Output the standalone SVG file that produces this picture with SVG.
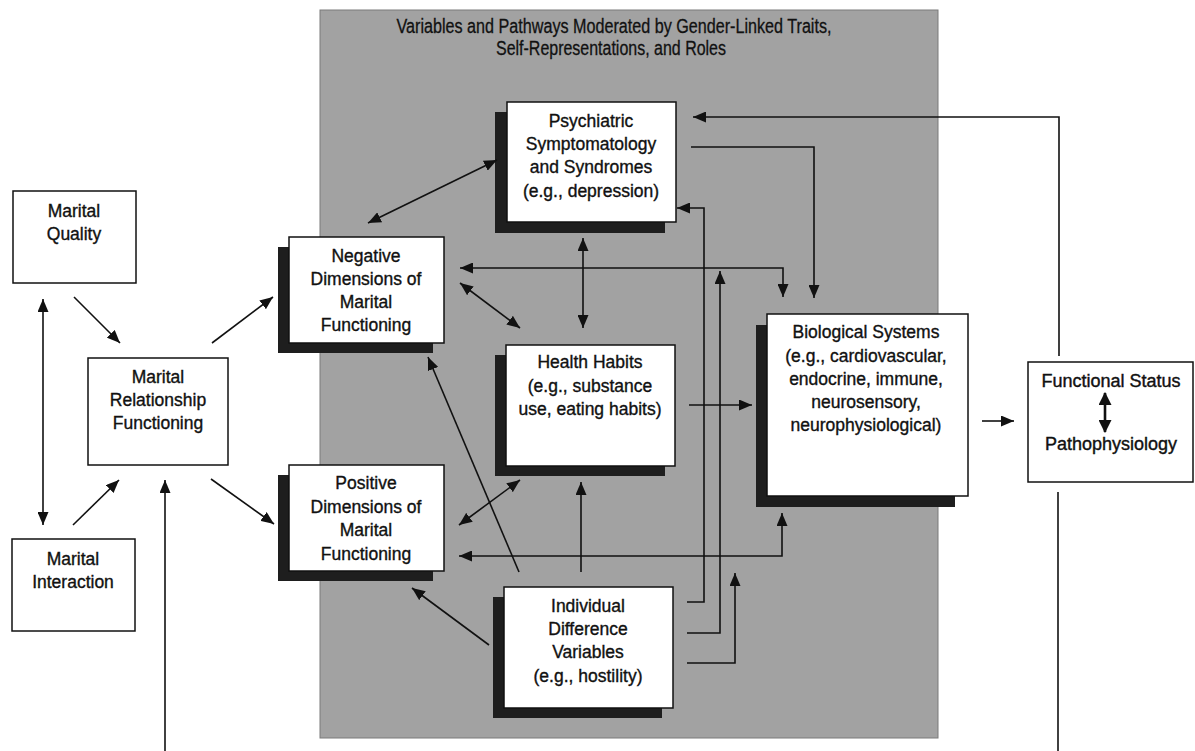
<svg xmlns="http://www.w3.org/2000/svg" width="1195" height="751" viewBox="0 0 1195 751">
  <style>
    .box { fill: #ffffff; stroke: #111; stroke-width: 1.5; }
    .shadow { fill: #1e1e1e; }
    .t { font-family: "Liberation Sans", Arial, sans-serif; font-size: 17.5px; fill: #111; stroke: #111; stroke-width: 0.35; text-anchor: middle; }
    .title { font-family: "Liberation Sans Narrow", "Liberation Sans", Arial, sans-serif; font-size: 20px; fill: #111; stroke: #111; stroke-width: 0.3; text-anchor: middle; }
    .fs { font-family: "Liberation Sans", Arial, sans-serif; font-size: 18px; fill: #111; stroke: #111; stroke-width: 0.4; text-anchor: middle; }
    .c { fill: none; stroke: #111; stroke-width: 1.6; }
  </style>
  <defs>
    <marker id="ah" viewBox="0 0 13 11" refX="13" refY="5.5" markerWidth="13" markerHeight="11" markerUnits="userSpaceOnUse" orient="auto-start-reverse">
      <path d="M0,0 L13,5.5 L0,11 z" fill="#111"/>
    </marker>
    <marker id="ahb" viewBox="0 0 12 12" refX="11" refY="6" markerWidth="13" markerHeight="13" markerUnits="userSpaceOnUse" orient="auto-start-reverse">
      <path d="M0,0 L12,6 L0,12 z" fill="#111"/>
    </marker>
  </defs>

  <rect width="1195" height="751" fill="#ffffff"/>

  <!-- shaded panel of moderated pathways -->
  <g id="panel">
    <rect x="320" y="10" width="618" height="728" fill="#a2a2a2" stroke="#7a7a7a" stroke-width="1"/>
    <text class="title" x="614" y="33" textLength="435" lengthAdjust="spacingAndGlyphs">Variables and Pathways Moderated by Gender-Linked Traits,</text>
    <text class="title" x="611" y="55" textLength="230" lengthAdjust="spacingAndGlyphs">Self-Representations, and Roles</text>
  </g>

  <!-- left-hand marital boxes -->
  <g id="marital-quality">
    <rect class="box" x="13" y="191" width="123" height="92"/>
    <text class="t" x="74" y="217">Marital</text>
    <text class="t" x="74" y="240">Quality</text>
  </g>
  <g id="marital-interaction">
    <rect class="box" x="12" y="539" width="123" height="92"/>
    <text class="t" x="73" y="565">Marital</text>
    <text class="t" x="73" y="588">Interaction</text>
  </g>
  <g id="marital-relationship-functioning">
    <rect class="box" x="88" y="358" width="140" height="107"/>
    <text class="t" x="158" y="383">Marital</text>
    <text class="t" x="158" y="406">Relationship</text>
    <text class="t" x="158" y="429">Functioning</text>
  </g>

  <!-- shadowed boxes inside the panel -->
  <g id="negative-dimensions">
    <rect class="shadow" x="278" y="247" width="155" height="106"/>
    <rect class="box" x="289" y="237" width="155" height="106"/>
    <text class="t" x="366" y="262">Negative</text>
    <text class="t" x="366" y="285">Dimensions of</text>
    <text class="t" x="366" y="308">Marital</text>
    <text class="t" x="366" y="331">Functioning</text>
  </g>
  <g id="positive-dimensions">
    <rect class="shadow" x="278" y="475" width="155" height="106"/>
    <rect class="box" x="289" y="465" width="155" height="106"/>
    <text class="t" x="366" y="489">Positive</text>
    <text class="t" x="366" y="513">Dimensions of</text>
    <text class="t" x="366" y="536">Marital</text>
    <text class="t" x="366" y="560">Functioning</text>
  </g>
  <g id="psychiatric">
    <rect class="shadow" x="495" y="112" width="170" height="121"/>
    <rect class="box" x="507" y="102" width="169" height="120"/>
    <text class="t" x="591" y="127">Psychiatric</text>
    <text class="t" x="591" y="150">Symptomatology</text>
    <text class="t" x="591" y="173">and Syndromes</text>
    <text class="t" x="591" y="197">(e.g., depression)</text>
  </g>
  <g id="health-habits">
    <rect class="shadow" x="495" y="355" width="170" height="121"/>
    <rect class="box" x="506" y="345" width="169" height="121"/>
    <text class="t" x="590" y="368">Health Habits</text>
    <text class="t" x="590" y="392">(e.g., substance</text>
    <text class="t" x="590" y="415">use, eating habits)</text>
  </g>
  <g id="individual-difference">
    <rect class="shadow" x="493" y="597" width="169" height="121"/>
    <rect class="box" x="504" y="587" width="169" height="121"/>
    <text class="t" x="588" y="612">Individual</text>
    <text class="t" x="588" y="635">Difference</text>
    <text class="t" x="588" y="658">Variables</text>
    <text class="t" x="588" y="682">(e.g., hostility)</text>
  </g>
  <g id="biological-systems">
    <rect class="shadow" x="756" y="325" width="199" height="182"/>
    <rect class="box" x="767" y="314" width="201" height="182"/>
    <text class="t" x="866" y="338">Biological Systems</text>
    <text class="t" x="866" y="362">(e.g., cardiovascular,</text>
    <text class="t" x="866" y="385">endocrine, immune,</text>
    <text class="t" x="866" y="408">neurosensory,</text>
    <text class="t" x="866" y="431">neurophysiological)</text>
  </g>

  <!-- outcome box -->
  <g id="functional-status">
    <rect class="box" x="1028" y="362" width="165" height="120"/>
    <text class="fs" x="1111" y="387">Functional Status</text>
    <text class="fs" x="1111" y="450">Pathophysiology</text>
    <path d="M1105,393 L1105,432" fill="none" stroke="#111" stroke-width="2.6" marker-start="url(#ahb)" marker-end="url(#ahb)"/>
  </g>

  <!-- connectors -->
  <g id="connectors" class="c">
    <path class="c" d="M43,299 L43,525" marker-start="url(#ah)" marker-end="url(#ah)"/>
    <path class="c" d="M74,297 L120,343" marker-end="url(#ah)"/>
    <path class="c" d="M73,525 L119,480" marker-end="url(#ah)"/>
    <path class="c" d="M165,751 L165,480" marker-end="url(#ah)"/>
    <path class="c" d="M212,343 L273,297" marker-end="url(#ah)"/>
    <path class="c" d="M211,479 L274,524" marker-end="url(#ah)"/>

    <path class="c" d="M368,223 L497,160" marker-start="url(#ah)" marker-end="url(#ah)"/>
    <path class="c" d="M583,238 L583,328" marker-start="url(#ah)" marker-end="url(#ah)"/>
    <path class="c" d="M460,283 L520,328" marker-start="url(#ah)" marker-end="url(#ah)"/>
    <path class="c" d="M460,268 L783,268 L783,297" marker-start="url(#ah)" marker-end="url(#ah)"/>
    <path class="c" d="M691,147 L814,147 L814,298" marker-end="url(#ah)"/>
    <path class="c" d="M1059,356 L1059,117 L693,117" marker-end="url(#ah)"/>
    <path class="c" d="M689,405 L752,405" marker-end="url(#ah)"/>
    <path class="c" d="M459,525 L520,480" marker-start="url(#ah)" marker-end="url(#ah)"/>
    <path class="c" d="M459,556 L782,556 L782,513" marker-start="url(#ah)" marker-end="url(#ah)"/>

    <path class="c" d="M519,572 L428,357" marker-end="url(#ah)"/>
    <path class="c" d="M581,572 L581,482" marker-end="url(#ah)"/>
    <path class="c" d="M489,645 L412,588" marker-end="url(#ah)"/>
    <path class="c" d="M687,602 L704,602 L704,208 L677,208" marker-end="url(#ah)"/>
    <path class="c" d="M687,633 L720,633 L720,271" marker-end="url(#ah)"/>
    <path class="c" d="M687,663 L735,663 L735,573" marker-end="url(#ah)"/>

    <path class="c" d="M982,421 L1014,421" marker-end="url(#ah)"/>
    <path class="c" d="M1058,492 L1058,751"/>
  </g>
</svg>
